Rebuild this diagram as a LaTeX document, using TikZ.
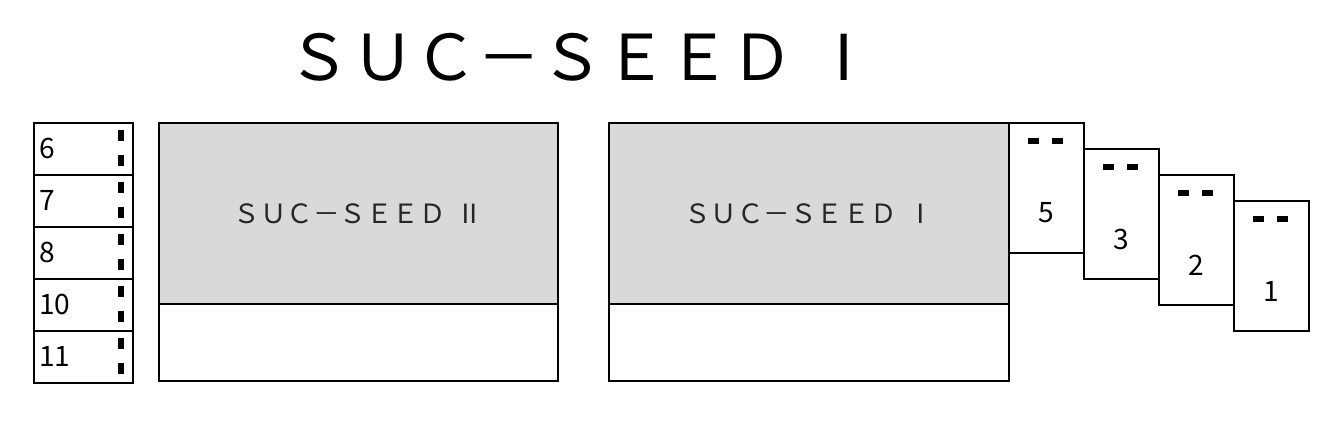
\documentclass[tikz,border=0pt]{standalone}
\usepackage{fontspec}
\newfontfamily\jpfont{Noto Sans CJK JP}
\usepackage{tikz}
\usetikzlibrary{positioning}
\definecolor{seedgray}{RGB}{217,217,217}
\tikzset{
    frame/.style={draw=black, line width=1.15pt},
    tick/.style={fill=black},
    numtext/.style={font=\jpfont\fontsize{16}{16}\selectfont, inner sep=0pt},
    seedtext/.style={font=\jpfont\fontsize{15.1}{15}\selectfont, inner sep=0pt, text=black!85},
    titletext/.style={font=\jpfont\fontsize{36}{36}\selectfont, inner sep=0pt}
}

\begin{document}
\begin{tikzpicture}[x=0.02cm, y=-0.02cm]
    \useasboundingbox (0,0) rectangle (1335,438);

    % Title
    \node[titletext] (title) at (582,57.5) {ＳＵＣ－ＳＥＥＤ\hspace{0.3em}Ⅰ};

    % Left column
    \foreach \lab [count=\i from 0] in {6,7,8,10,11} {
        \draw[frame] (34,123+52*\i) rectangle ++(99,52);
        \node[numtext, anchor=west] (row\lab) at (39,148+52*\i) {\lab};
        \fill[tick] (118,130+52*\i) rectangle ++(6,11);
        \fill[tick] (118,155+52*\i) rectangle ++(6,11);
    }

    % SUC-SEED II
    \fill[seedgray] (159,123) rectangle (558,304);
    \draw[frame] (159,123) rectangle (558,381);
    \draw[frame] (159,304) -- (558,304);
    \node[seedtext] (seedII) at (358.5,213.5) {ＳＵＣ－ＳＥＥＤ\hspace{0.4em}Ⅱ};

    % SUC-SEED I
    \fill[seedgray] (609,123) rectangle (1009,304);
    \draw[frame] (609,123) rectangle (1009,381);
    \draw[frame] (609,304) -- (1009,304);
    \node[seedtext] (seedI) at (809,213.5) {ＳＵＣ－ＳＥＥＤ\hspace{0.4em}Ⅰ};

    % Stepped cards
    \foreach \lab [count=\k from 0] in {5,3,2,1} {
        \draw[frame] (1009+75*\k,123+26*\k) rectangle ++(75,130);
        \fill[tick] (1028+75*\k,138+26*\k) rectangle ++(11,6);
        \fill[tick] (1052+75*\k,138+26*\k) rectangle ++(11,6);
        \node[numtext] (card\lab) at (1046.5+75*\k,213+26*\k) {\lab};
    }
\end{tikzpicture}
\end{document}
